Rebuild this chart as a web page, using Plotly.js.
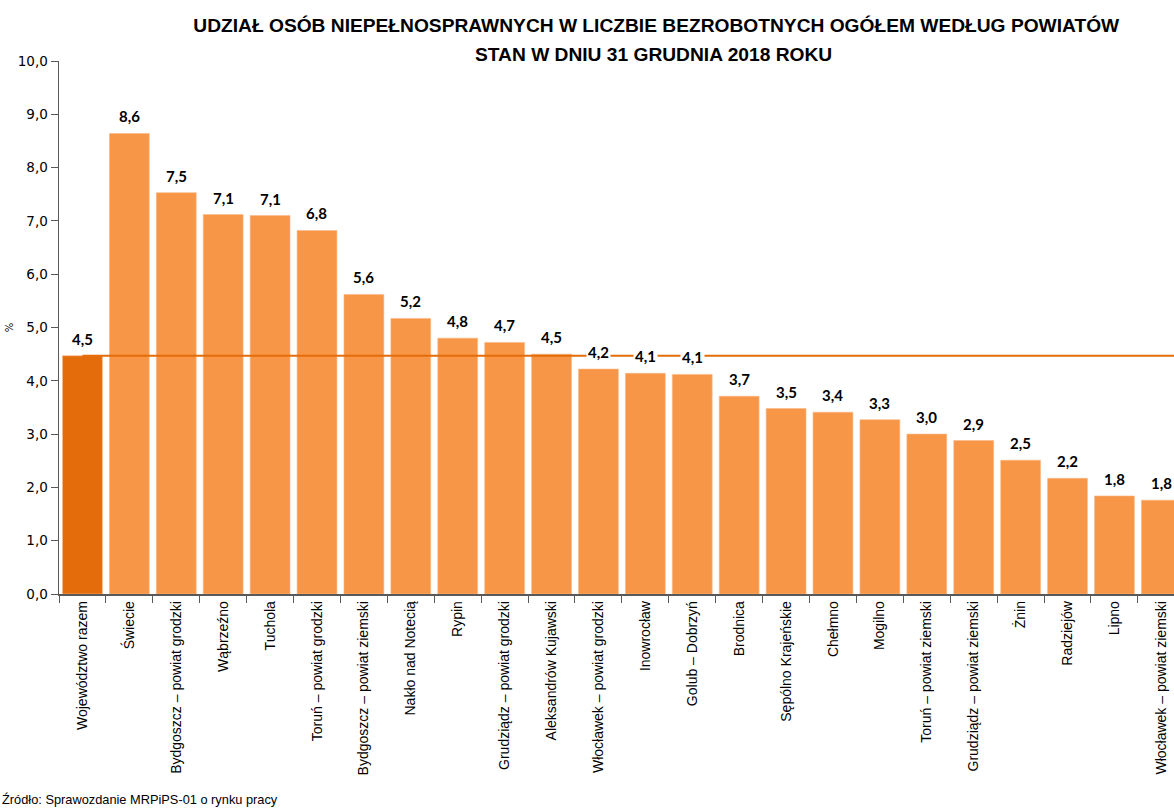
<!DOCTYPE html>
<html>
<head>
<meta charset="utf-8">
<script src="https://cdn.plot.ly/plotly-3.0.1.min.js"></script>
<style>html,body{margin:0;padding:0;background:#fff;}#chart{width:1174px;height:808px;}</style>
</head>
<body>
<div id="chart"></div>
<script>
const categories = [
  "Województwo razem", "Świecie", "Bydgoszcz – powiat grodzki", "Wąbrzeźno", "Tuchola",
  "Toruń – powiat grodzki", "Bydgoszcz – powiat ziemski", "Nakło nad Notecią", "Rypin",
  "Grudziądz – powiat grodzki", "Aleksandrów Kujawski", "Włocławek – powiat grodzki",
  "Inowrocław", "Golub – Dobrzyń", "Brodnica", "Sępólno Krajeńskie", "Chełmno", "Mogilno",
  "Toruń – powiat ziemski", "Grudziądz – powiat ziemski", "Żnin", "Radziejów", "Lipno",
  "Włocławek – powiat ziemski"
];
const values = [4.47, 8.64, 7.53, 7.12, 7.10, 6.82, 5.62, 5.17, 4.80, 4.72, 4.50, 4.22,
  4.14, 4.12, 3.71, 3.48, 3.41, 3.27, 3.00, 2.88, 2.51, 2.17, 1.84, 1.76];
const averageValue = 4.47;
const yTickValues = [0, 1, 2, 3, 4, 5, 6, 7, 8, 9, 10];
const titleLine1 = 'UDZIAŁ OSÓB NIEPEŁNOSPRAWNYCH W LICZBIE BEZROBOTNYCH OGÓŁEM WEDŁUG POWIATÓW';
const titleLine2 = 'STAN W DNIU 31 GRUDNIA 2018 ROKU';
const sourceText = 'Źródło: Sprawozdanie MRPiPS-01 o rynku pracy';

const fmt = v => v.toFixed(1).replace('.', ',');
const colors = categories.map((c, i) => i === 0 ? '#E46C0A' : '#F79646');

const trace = {
  type: 'bar',
  x: categories,
  y: values,
  marker: {color: colors, line: {color: '#FAB886', width: 0.6}},
  hoverinfo: 'x+y'
};

const titleFont = {family: 'Liberation Sans Narrow, Liberation Sans, sans-serif', size: 19.2, color: '#000'};

const annotations = categories.map((c, i) => ({
  x: c, y: values[i], xref: 'x', yref: 'y',
  text: '<b>' + fmt(values[i]) + '</b>',
  showarrow: false, yanchor: 'middle', yshift: 17,
  bgcolor: '#ffffff', borderpad: 1,
  font: {family: 'Lato, Liberation Sans, sans-serif', size: 15, color: '#000000'}
}));
annotations.push({
  xref: 'paper', yref: 'paper', x: 0.533, y: 1 + (61 - 55) / 533, xanchor: 'center', yanchor: 'middle',
  text: '<b>' + titleLine2 + '</b>', showarrow: false, font: titleFont
});
annotations.push({
  xref: 'paper', yref: 'paper', x: -0.053, y: -0.385, xanchor: 'left', yanchor: 'middle',
  text: sourceText, showarrow: false,
  font: {family: 'Liberation Sans Narrow, Liberation Sans, sans-serif', size: 12.8, color: '#000'}
});

const layout = {
  width: 1174, height: 808,
  margin: {l: 59, r: 0, t: 61, b: 214, pad: 0},
  paper_bgcolor: '#ffffff', plot_bgcolor: '#ffffff',
  separators: ', ',
  showlegend: false,
  bargap: 0.15,
  title: {
    text: '<b>' + titleLine1 + '</b>',
    x: 0.559, xanchor: 'center', y: 1 - 25 / 808, yanchor: 'middle',
    font: titleFont
  },
  xaxis: {
    type: 'category',
    range: [-0.5, 23.27],
    tickangle: -90,
    ticks: 'outside', ticklen: 7, tickcolor: '#595959', tickson: 'boundaries',
    showline: true, linecolor: '#595959', linewidth: 1.5,
    showgrid: false, zeroline: false,
    tickfont: {family: 'Liberation Sans, sans-serif', size: 14, color: '#000'}
  },
  yaxis: {
    range: [0, 10],
    tickvals: yTickValues,
    tickformat: '.1f',
    ticks: 'outside', ticklen: 7, tickcolor: '#595959',
    showline: true, linecolor: '#595959', linewidth: 1.5,
    showgrid: false, zeroline: false,
    tickfont: {family: 'DejaVu Sans, Verdana, sans-serif', size: 13.5, color: '#000'},
    title: {text: '%', standoff: 2, font: {family: 'DejaVu Sans, sans-serif', size: 10, color: '#000'}}
  },
  shapes: [{
    type: 'line', layer: 'above', xref: 'x', yref: 'y',
    x0: 0, x1: 23.27, y0: averageValue, y1: averageValue,
    line: {color: '#E46C0A', width: 2}
  }],
  annotations: annotations
};

Plotly.newPlot('chart', [trace], layout, {displayModeBar: false, staticPlot: true});
</script>
</body>
</html>
